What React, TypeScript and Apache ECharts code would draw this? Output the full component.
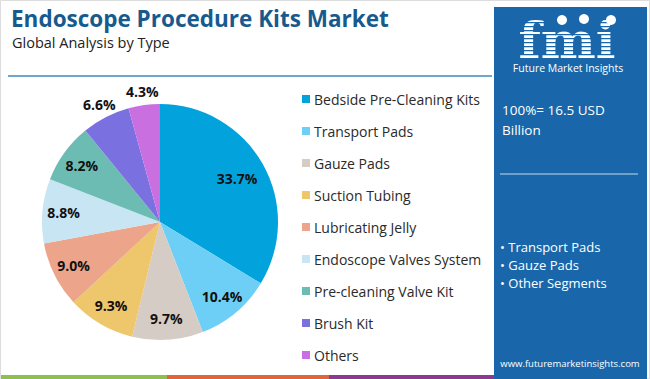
import React, { useEffect, useRef } from "react";
import * as echarts from "echarts";

const categories = [
  "Bedside Pre-Cleaning Kits",
  "Transport Pads",
  "Gauze Pads",
  "Suction Tubing",
  "Lubricating Jelly",
  "Endoscope Valves System",
  "Pre-cleaning Valve Kit",
  "Brush Kit",
  "Others",
];
const shares = [33.7, 10.4, 9.7, 9.3, 9.0, 8.8, 8.2, 6.6, 4.3];
const colors = [
  "#02a3dc",
  "#6dcff6",
  "#d6ccc6",
  "#eec66c",
  "#eca58b",
  "#c8e5f4",
  "#6cbcb4",
  "#7b70e0",
  "#c96fe0",
];
const titleText = "Endoscope Procedure Kits Market";
const subtitleText = "Global Analysis by Type";
const totalLines = ["100%= 16.5 USD", "Billion"];
const bulletItems = ["• Transport Pads", "• Gauze Pads", "• Other Segments"];
const siteText = "www.futuremarketinsights.com";

const CX = 160;
const CY = 222;
const R = 118;

export default function App() {
  const ref = useRef<HTMLDivElement>(null);
  useEffect(() => {
    if (!ref.current) return;
    const chart = echarts.init(ref.current, undefined, { renderer: "svg" });
    const total = shares.reduce((a, b) => a + b, 0);
    const cum: number[] = [];
    let acc = 0;
    shares.forEach((v) => {
      cum.push(acc + v / 2);
      acc += v;
    });

    const stripes: any[] = [];
    for (let y = 18; y < 56; y += 4) {
      stripes.push({
        type: "rect",
        shape: { x: 512, y, width: 112, height: 1.2 },
        style: { fill: "#1967aa" },
        z: 12,
      });
    }

    chart.setOption({
      animation: false,
      backgroundColor: "#ffffff",
      legend: {
        orient: "vertical",
        left: 297,
        top: 87,
        itemWidth: 8,
        itemHeight: 8,
        itemGap: 18,
        icon: "rect",
        data: categories,
        textStyle: {
          fontFamily: "Open Sans",
          fontSize: 14,
          color: "#2a2a2a",
          padding: [0, 0, 0, -1],
        },
      },
      graphic: [
        {
          type: "rect",
          shape: { x: 0.5, y: 0.5, width: 649, height: 378 },
          style: { fill: "none", stroke: "#dddddd", lineWidth: 1 },
          z: 1,
        },
        {
          type: "text",
          x: 11,
          y: 18,
          style: {
            text: titleText,
            fontFamily: "Open Sans",
            fontWeight: "bold",
            fontSize: 22.5,
            lineHeight: 24,
            fill: "#175a8e",
            verticalAlign: "middle",
          },
        },
        {
          type: "text",
          x: 12,
          y: 42,
          style: {
            text: subtitleText,
            fontFamily: "Open Sans",
            fontSize: 14.5,
            lineHeight: 16,
            fill: "#222222",
            verticalAlign: "middle",
          },
        },
        {
          type: "line",
          shape: { x1: 8, y1: 76, x2: 492, y2: 76 },
          style: { stroke: "#3f88b7", lineWidth: 1.6 },
        },
        {
          type: "rect",
          shape: { x: 494, y: 7, width: 153, height: 372 },
          style: { fill: "#1967aa" },
          z: 10,
        },
        {
          type: "text",
          x: 567,
          y: 40,
          scaleX: 1.3,
          scaleY: 1.25,
          style: {
            text: "fmi",
            fontFamily: "DejaVu Serif",
            fontWeight: "bold",
            fontSize: 40,
            lineHeight: 36,
            fill: "#ffffff",
            align: "center",
            verticalAlign: "middle",
          },
          z: 11,
        },
        ...stripes,
        {
          type: "circle",
          shape: { cx: 562, cy: 20, r: 5 },
          style: { fill: "#ffffff" },
          z: 13,
        },
        {
          type: "circle",
          shape: { cx: 584, cy: 19, r: 5 },
          style: { fill: "#ffffff" },
          z: 13,
        },
        {
          type: "circle",
          shape: { cx: 611, cy: 20, r: 5 },
          style: { fill: "#ffffff" },
          z: 13,
        },
        {
          type: "text",
          x: 568,
          y: 68,
          style: {
            text: "Future Market Insights",
            fontFamily: "Open Sans",
            fontSize: 10.5,
            lineHeight: 11,
            fill: "#ffffff",
            align: "center",
            verticalAlign: "middle",
          },
          z: 13,
        },
        {
          type: "text",
          x: 502,
          y: 110,
          style: {
            text: totalLines[0],
            fontFamily: "Open Sans",
            fontSize: 13.5,
            fill: "#ffffff",
            verticalAlign: "middle",
          },
          z: 13,
        },
        {
          type: "text",
          x: 502,
          y: 130,
          style: {
            text: totalLines[1],
            fontFamily: "Open Sans",
            fontSize: 13.5,
            fill: "#ffffff",
            verticalAlign: "middle",
          },
          z: 13,
        },
        {
          type: "line",
          shape: { x1: 500, y1: 174, x2: 638, y2: 174 },
          style: { stroke: "#c9d9e8", lineWidth: 1 },
          z: 13,
        },
        ...bulletItems.map((t, i) => ({
          type: "text",
          x: 500,
          y: 247 + i * 17.8,
          style: {
            text: t,
            fontFamily: "Open Sans",
            fontSize: 13,
            fill: "#ffffff",
            verticalAlign: "middle",
          },
          z: 13,
        })),
        {
          type: "text",
          x: 570,
          y: 363,
          style: {
            text: siteText,
            fontFamily: "Open Sans",
            fontSize: 9.5,
            fill: "#ffffff",
            align: "center",
            verticalAlign: "middle",
          },
          z: 13,
        },
        {
          type: "rect",
          shape: { x: 1, y: 375, width: 166, height: 4 },
          style: { fill: "#8dc04f" },
          z: 14,
        },
        {
          type: "rect",
          shape: { x: 167, y: 375, width: 162, height: 4 },
          style: { fill: "#e0653a" },
          z: 14,
        },
        {
          type: "rect",
          shape: { x: 329, y: 375, width: 165, height: 4 },
          style: { fill: "#8b3a8f" },
          z: 14,
        },
      ],
      series: [
        {
          type: "pie",
          center: [CX, CY],
          radius: [0, R],
          startAngle: 90,
          clockwise: true,
          avoidLabelOverlap: false,
          label: {
            show: true,
            position: "inside",
            formatter: (p: any) => p.value.toFixed(1) + "%",
            fontFamily: "Open Sans",
            fontWeight: "bold",
            fontSize: 14,
            color: "#111111",
          },
          labelLine: { show: false },
          labelLayout: (p: any) => {
            const i = p.dataIndex;
            const v = shares[i];
            const f = v > 20 ? 0.75 : v < 7 ? 1.12 : 0.82;
            const ang = Math.PI / 2 - (cum[i] / total) * Math.PI * 2;
            return {
              x: CX + Math.cos(ang) * R * f,
              y: CY - Math.sin(ang) * R * f,
              align: "center",
              verticalAlign: "middle",
            };
          },
          itemStyle: { borderWidth: 0 },
          emphasis: { disabled: true },
          data: categories.map((name, i) => ({
            name,
            value: shares[i],
            itemStyle: { color: colors[i] },
          })),
        },
      ],
    });
    return () => chart.dispose();
  }, []);
  return (
    <div
      ref={ref}
      style={{ position: "fixed", left: 0, top: 0, width: 650, height: 379 }}
    />
  );
}
